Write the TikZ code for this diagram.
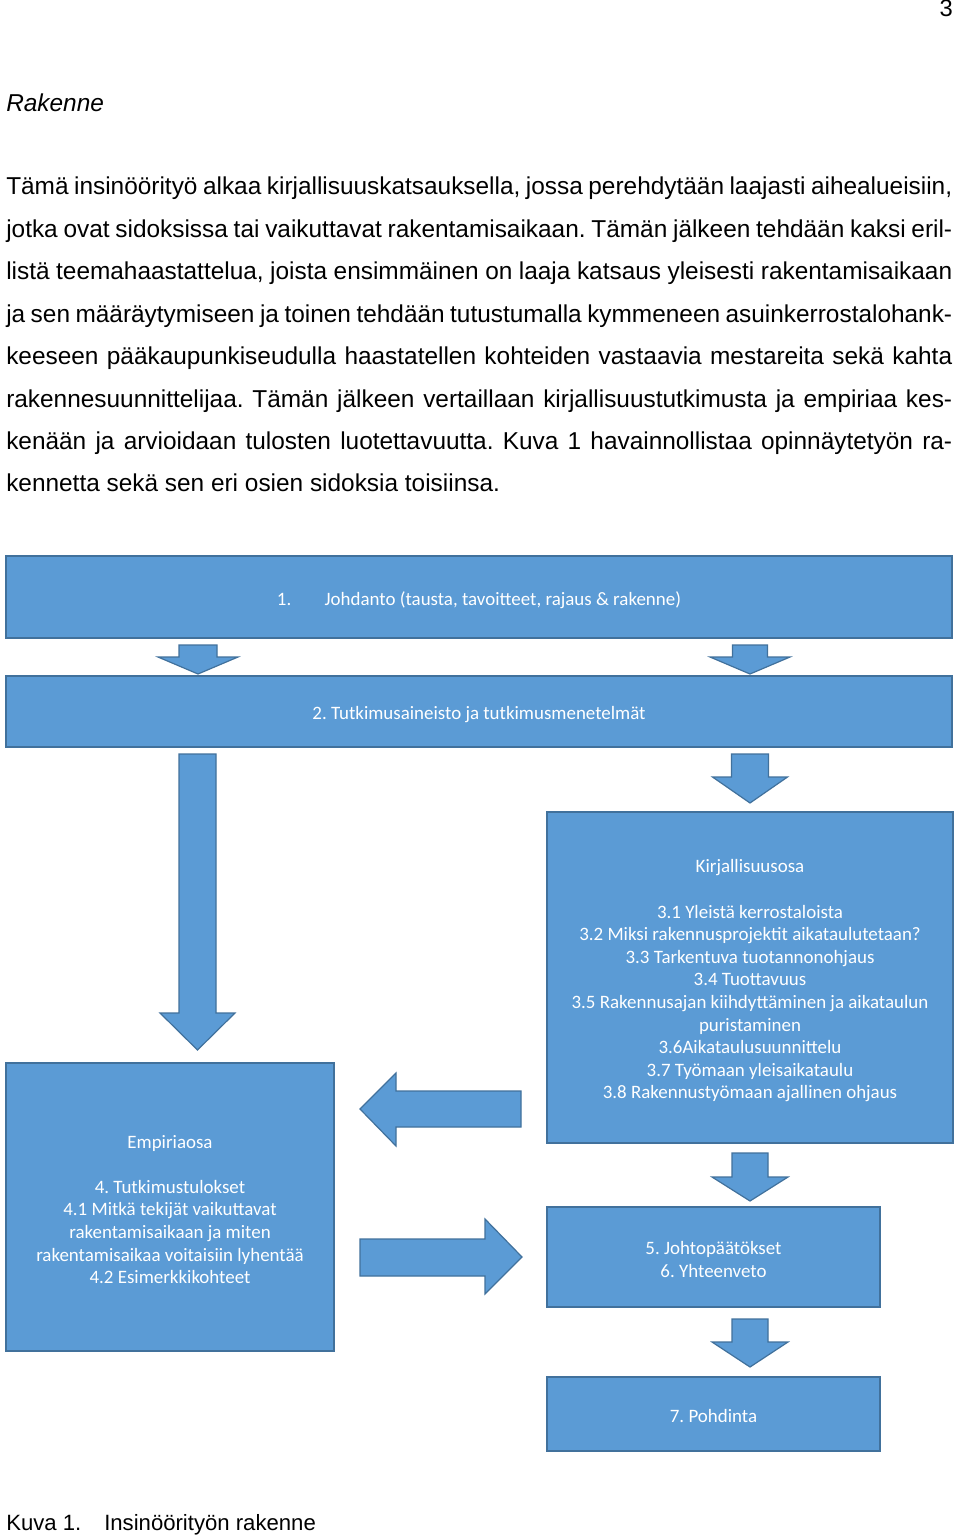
\documentclass[tikz,border=0pt]{standalone}
\usepackage{fontspec}
\setmainfont{Liberation Sans}
\newfontfamily\boxfont{Carlito}
\frenchspacing
\definecolor{boxfill}{RGB}{91,155,213}
\definecolor{boxline}{RGB}{65,113,156}
\newcommand{\bodyline}[3]{\node[bodytext] (#1) at (6,#2) {\makebox[709.5pt][s]{#3}};}
\newcommand{\downblock}[7]{% name, cx, top, headstart, tip, shafthalf, headhalf
  \draw[blockarrow] (#2-#6,#3) -- (#2+#6,#3) -- (#2+#6,#4) -- (#2+#7,#4) -- (#2,#5) -- (#2-#7,#4) -- (#2-#6,#4) -- cycle;
  \coordinate (#1) at (#2,#5);}
\begin{document}
\begin{tikzpicture}[x=0.75pt,y=-0.75pt,
  bodytext/.style={anchor=base west,inner sep=0pt,font=\fontsize{18.3}{20}\selectfont},
  captext/.style={anchor=base west,inner sep=0pt,font=\fontsize{16.6}{20}\selectfont},
  box/.style={draw=boxline,fill=boxfill,line width=0.9pt,inner sep=0pt},
  boxtext/.style={text=white,align=center,inner sep=0pt,
    font=\boxfont\fontsize{14.2}{16.95}\selectfont},
  blockarrow/.style={draw=boxline,fill=boxfill,line width=0.9pt,line join=miter}]
\useasboundingbox (0,0) rectangle (960,1537);
\fill[white] (0,0) rectangle (960,1537);

\node[anchor=base east,inner sep=0pt,font=\fontsize{17.8}{20}\selectfont] (pagenum) at (953,17) {3};
\node[anchor=base west,inner sep=0pt,font=\fontsize{18.3}{20}\selectfont\itshape] (title) at (6,112) {Rakenne};

\bodyline{l1}{195}{Tämä insinöörityö alkaa kirjallisuuskatsauksella, jossa perehdytään laajasti aihealueisiin,}
\bodyline{l2}{237.4}{jotka ovat sidoksissa tai vaikuttavat rakentamisaikaan. Tämän jälkeen tehdään kaksi eril-}
\bodyline{l3}{279.8}{listä teemahaastattelua, joista ensimmäinen on laaja katsaus yleisesti rakentamisaikaan}
\bodyline{l4}{322.2}{ja sen määräytymiseen ja toinen tehdään tutustumalla kymmeneen asuinkerrostalohank-}
\bodyline{l5}{364.6}{keeseen pääkaupunkiseudulla haastatellen kohteiden vastaavia mestareita sekä kahta}
\bodyline{l6}{407}{rakennesuunnittelijaa. Tämän jälkeen vertaillaan kirjallisuustutkimusta ja empiriaa kes-}
\bodyline{l7}{449.4}{kenään ja arvioidaan tulosten luotettavuutta. Kuva 1 havainnollistaa opinnäytetyön ra-}
\node[bodytext] (l8) at (6,491.8) {kennetta sekä sen eri osien sidoksia toisiinsa.};

% boxes
\node[box,minimum width=946*0.75pt,minimum height=82*0.75pt] (b1) at (479,597) {};
\node[box,minimum width=946*0.75pt,minimum height=71*0.75pt] (b2) at (479,711.5) {};
\node[box,minimum width=406*0.75pt,minimum height=331*0.75pt] (b3) at (750,977.5) {};
\node[box,minimum width=328*0.75pt,minimum height=288*0.75pt] (b4) at (170,1207) {};
\node[box,minimum width=333*0.75pt,minimum height=100*0.75pt] (b5) at (713.5,1257) {};
\node[box,minimum width=333*0.75pt,minimum height=74*0.75pt] (b7) at (713.5,1414) {};

% box texts
\node[boxtext] (t1) at ([yshift=-2.25pt]b1.center)
  {1.\hspace{25pt}Johdanto (tausta, tavoitteet, rajaus \& rakenne)};
\node[boxtext] (t2) at ([yshift=-2.25pt]b2.center)
  {2. Tutkimusaineisto ja tutkimusmenetelmät};
\node[boxtext] (t3) at ([yshift=-2.6pt]b3.center)
  {Kirjallisuusosa\\[16.95pt]3.1 Yleistä kerrostaloista\\3.2 Miksi rakennusprojektit aikataulutetaan?\\3.3 Tarkentuva tuotannonohjaus\\3.4 Tuottavuus\\3.5 Rakennusajan kiihdyttäminen ja aikataulun\\puristaminen\\3.6Aikataulusuunnittelu\\3.7 Työmaan yleisaikataulu\\3.8 Rakennustyömaan ajallinen ohjaus};
\node[boxtext] (t4) at ([yshift=-1.8pt]b4.center)
  {Empiriaosa\\[16.95pt]4. Tutkimustulokset\\4.1 Mitkä tekijät vaikuttavat\\rakentamisaikaan ja miten\\rakentamisaikaa voitaisiin lyhentää\\4.2 Esimerkkikohteet};
\node[boxtext] (t5) at ([yshift=-1.8pt]b5.center)
  {5. Johtopäätökset\\6. Yhteenveto};
\node[boxtext] (t7) at ([yshift=-1.2pt]b7.center)
  {7. Pohdinta};

% block arrows
\downblock{a1}{198}{645}{657}{674}{19}{40}
\downblock{a2}{750}{645}{657}{674}{17.5}{40}
\downblock{a3}{197.5}{754}{1013}{1050}{18.5}{37.5}
\downblock{a4}{750}{754}{777}{803}{18.5}{37.5}
\downblock{a5}{750}{1153}{1177}{1201}{18}{38}
\downblock{a6}{750}{1319}{1342}{1367}{18}{38}
\draw[blockarrow] (521,1091) -- (521,1127) -- (396,1127) -- (396,1146) -- (360,1109) -- (396,1073) -- (396,1091) -- cycle;
\draw[blockarrow] (360,1239) -- (485,1239) -- (485,1219) -- (522,1257) -- (485,1294) -- (485,1276) -- (360,1276) -- cycle;

% caption
\node[captext] (cap1) at (6,1530) {Kuva 1.};
\node[captext] (cap2) at (104,1530) {Insinöörityön rakenne};
\end{tikzpicture}
\end{document}
